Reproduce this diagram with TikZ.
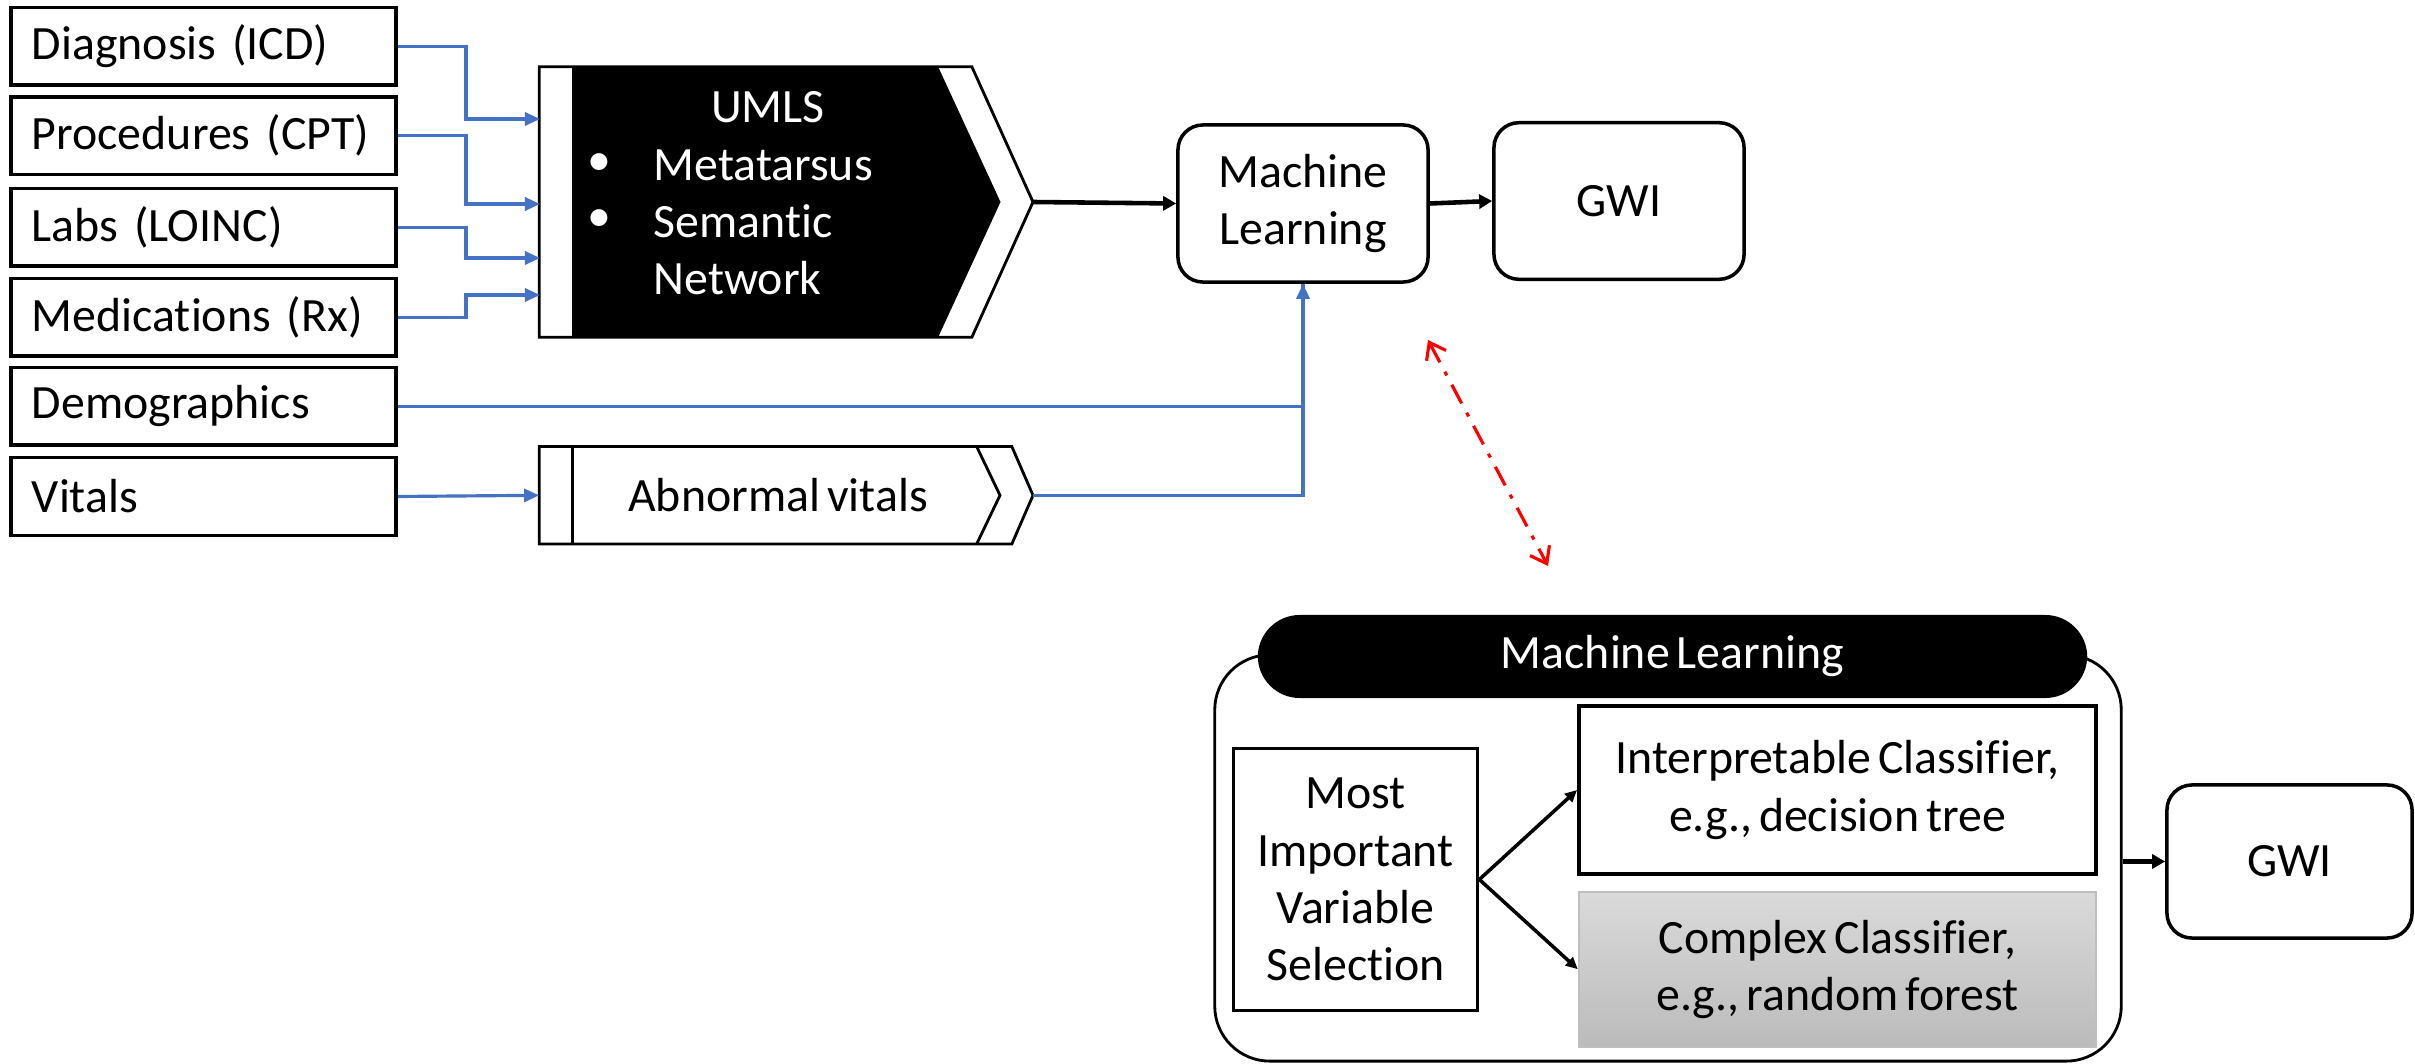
\documentclass[tikz,border=0pt]{standalone}
\usepackage{fontspec}
\setmainfont[Ligatures=NoCommon, WordSpace=0.65]{Carlito}
\usetikzlibrary{arrows.meta,calc}
\definecolor{linkblue}{HTML}{4472C4}
\definecolor{cgtop}{HTML}{DADADA}
\definecolor{cgbot}{HTML}{BBBBBB}
\definecolor{cgline}{HTML}{BFBFBF}
\begin{document}
\begin{tikzpicture}[x=0.01cm,y=-0.01cm,
  font=\fontsize{13.6}{16.3}\selectfont,
  srcbox/.style={draw=black, line width=1pt, minimum height=0.775cm,
    text width=3.43cm, inner xsep=0.21cm, align=left},
  rbox/.style={draw=black, line width=1pt, rounded corners=0.25cm, align=center},
  sqbox/.style={draw=black, line width=1pt, align=center},
  bl/.style={linkblue, line width=0.9pt, -{Triangle[length=0.15cm,width=0.13cm]}},
  blplain/.style={linkblue, line width=0.9pt},
  bk/.style={black, line width=1.3pt, -{Triangle[length=0.13cm,width=0.14cm]}},
  bkthin/.style={black, line width=1pt, -{Triangle[length=0.12cm,width=0.11cm]}},
  reddash/.style={red, line width=0.9pt, dash pattern=on 6pt off 3pt on 1.2pt off 3pt,
    {Straight Barb[length=0.15cm,width=0.22cm]}-{Straight Barb[length=0.15cm,width=0.22cm]}},
  wtxt/.style={text=white, inner sep=0pt}]
\useasboundingbox (0,0) rectangle (2415,1064);

% source data boxes
\node[srcbox] (dx)   at (203.5,46.3)  {Diagnosis (ICD)};
\node[srcbox] (pr)   at (203.5,135.7) {Procedures (CPT)};
\node[srcbox] (lab)  at (203.5,227.3) {Labs (LOINC)};
\node[srcbox] (med)  at (203.5,317.3) {Medications (Rx)};
\node[srcbox] (demo) at (203.5,406.3) {Demographics};
\node[srcbox] (vit)  at (203.5,496.5) {Vitals};

% UMLS chevron
\node[minimum width=4.31cm, minimum height=2.69cm, inner sep=0pt] (umls) at (755.5,202) {};
\coordinate (umlstip) at (1033,202);
\draw[line width=0.8pt, fill=white] (umls.north west) -- (umls.north east) -- (umlstip)
  -- (umls.south east) -- (umls.south west) -- cycle;
\fill[black] (572,67.5) -- (938.5,67.5) -- (1000.5,202) -- (938.5,336.5) -- (572,336.5) -- cycle;
\node[wtxt] (umlshead) at (768,107) {UMLS};
\node[wtxt] (b1) at (599,165) {•};
\node[wtxt] (b2) at (599,221) {•};
\node[wtxt, anchor=west] (meta) at (653,165) {Metatarsus};
\node[wtxt, anchor=west] (sem) at (653,221) {Semantic};
\node[wtxt, anchor=west] (net) at (653,278) {Network};

% abnormal vitals chevron
\node[minimum width=4.71cm, minimum height=0.96cm, inner sep=0pt] (abn) at (775.5,495.3) {};
\coordinate (abntip) at (1033,495.3);
\draw[line width=0.8pt, fill=white] (abn.north west) -- (abn.north east) -- (abntip)
  -- (abn.south east) -- (abn.south west) -- cycle;
\draw[line width=0.8pt] (572.5,447.3) -- (572.5,543.3);
\draw[line width=0.8pt] (977,447.3) -- (1000,495.3) -- (977,543.3);
\node[inner sep=0pt] (abntext) at (778,495.3) {Abnormal vitals};

% top machine learning and outcome
\node[rbox, minimum width=2.5cm, minimum height=1.57cm] (ml) at (1303,203.5) {Machine\\Learning};
\node[rbox, minimum width=2.5cm, minimum height=1.565cm] (gwi) at (1619,201) {GWI};

% inputs into the UMLS mapping
\coordinate (in1) at (540,119);
\coordinate (in2) at (540,204);
\coordinate (in3) at (540,258);
\coordinate (in4) at (540,295);
\draw[bl] (dx.east)  -| ([xshift=-0.74cm]in1) -- (in1);
\draw[bl] (pr.east)  -| ([xshift=-0.74cm]in2) -- (in2);
\draw[bl] (lab.east) -| ([xshift=-0.74cm]in3) -- (in3);
\draw[bl] (med.east) -| ([xshift=-0.74cm]in4) -- (in4);
\draw[bl] (vit.east) -- (abn.west);
\draw[blplain] (abntip) -| (ml.south);
\draw[bl] (demo.east) -| (ml.south);
\draw[bk] (umlstip) -- (ml.west);
\draw[bk] (ml.east) -- (gwi.west);

% link to the detailed view
\coordinate (r1) at (1428,340);
\coordinate (r2) at (1548,566);
\draw[reddash] (r1) -- (r2);

% detailed machine learning block
\node[draw=black, line width=0.8pt, rounded corners=0.55cm, minimum width=9.06cm,
  minimum height=4.06cm] (mlframe) at (1668,858) {};
\node[fill=black, rounded corners=0.42cm, minimum width=8.29cm, minimum height=0.83cm,
  text=white] (mlhead) at (1672.5,656.5) {Machine Learning};
\node[sqbox, minimum width=2.44cm, minimum height=2.62cm] (mivs) at (1355.5,879.5)
  {Most\\Important\\Variable\\Selection};
\node[sqbox, minimum width=5.17cm, minimum height=1.68cm] (interp) at (1837.5,790)
  {Interpretable Classifier,\\e.g., decision tree};
\node[draw=cgline, line width=0.6pt, top color=cgtop, bottom color=cgbot, align=center,
  minimum width=5.17cm, minimum height=1.55cm] (cplx) at (1837.5,969.2)
  {Complex Classifier,\\e.g., random forest};
\node[rbox, minimum width=2.45cm, minimum height=1.53cm] (gwib) at (2289.5,861.5) {GWI};
\draw[bkthin] (mivs.east) -- (interp.west);
\draw[bkthin] (mivs.east) -- (cplx.west);
\draw[bk] (gwib.west -| mlframe.east) -- (gwib.west);
\end{tikzpicture}
\end{document}
